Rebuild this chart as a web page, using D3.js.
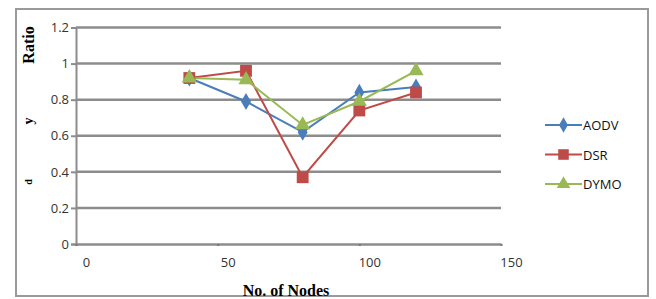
<!DOCTYPE html>
<html>
<head>
<meta charset="utf-8">
<script src="https://cdn.jsdelivr.net/npm/d3@7"></script>
<style>
  body { margin: 0; background: #fff; }
  svg { display: block; }
</style>
</head>
<body>
<div id="chart"></div>
<script>
// data
const nodes = [40, 60, 80, 100, 120];
const aodv = [0.92, 0.79, 0.62, 0.84, 0.87];
const dsr = [0.92, 0.96, 0.37, 0.74, 0.84];
const dymo = [0.92, 0.91, 0.66, 0.79, 0.96];
const xTicks = [0, 50, 100, 150];
const yTicks = [0, 0.2, 0.4, 0.6, 0.8, 1, 1.2];

const series = [
  { name: "AODV", values: aodv, color: "#4a7ebb", shape: d3.symbolDiamond, size: 85 },
  { name: "DSR", values: dsr, color: "#be4b48", shape: d3.symbolSquare, size: 140 },
  { name: "DYMO", values: dymo, color: "#98b954", shape: d3.symbolTriangle, size: 100 }
];

const width = 656, height = 299;
const svg = d3.select("#chart").append("svg")
  .attr("width", width).attr("height", height);

// outer frame
svg.append("rect")
  .attr("x", 16).attr("y", 9).attr("width", 632).attr("height", 287)
  .attr("fill", "none").attr("stroke", "#9a9a9a").attr("stroke-width", 2);

const x = d3.scaleLinear().domain([0, 150]).range([76, 501]);
const y = d3.scaleLinear().domain([0, 1.2]).range([244, 27.5]);

// gridlines + y ticks
const yAxis = svg.append("g")
  .attr("transform", "translate(76,0)")
  .call(d3.axisLeft(y).tickValues(yTicks).tickSize(5).tickFormat(d3.format("")));
yAxis.select(".domain").attr("stroke", "#8c8c8c").attr("stroke-width", 2);
yAxis.selectAll(".tick line").attr("stroke", "#8c8c8c").attr("stroke-width", 2);
yAxis.selectAll(".tick text")
  .attr("x", -7)
  .attr("fill", "#333")
  .style("font-family", "'Open Sans', sans-serif")
  .style("font-size", "13px");

svg.append("g").selectAll("line")
  .data(yTicks.filter(d => d > 0))
  .join("line")
  .attr("x1", 76).attr("x2", 501)
  .attr("y1", d => y(d)).attr("y2", d => y(d))
  .attr("stroke", "#8c8c8c").attr("stroke-width", 2.5);

// x axis
const xAxis = svg.append("g")
  .attr("transform", "translate(0,244)")
  .call(d3.axisBottom(x).tickValues(xTicks).tickSize(2).tickSizeOuter(0));
xAxis.select(".domain").attr("stroke", "#8c8c8c").attr("stroke-width", 2.5);
xAxis.selectAll(".tick line").attr("stroke", "#777").attr("stroke-width", 2);
xAxis.selectAll(".tick text")
  .attr("x", 10).attr("y", 14)
  .attr("fill", "#333")
  .style("font-family", "'Open Sans', sans-serif")
  .style("font-size", "13px");

// lines and markers
const line = d3.line()
  .x((d, i) => x(nodes[i]))
  .y(d => y(d));

series.forEach(s => {
  svg.append("path")
    .datum(s.values)
    .attr("d", line)
    .attr("fill", "none")
    .attr("stroke", s.color)
    .attr("stroke-width", 2);
});
series.forEach(s => {
  svg.append("g").selectAll("path")
    .data(s.values)
    .join("path")
    .attr("transform", (d, i) => `translate(${x(nodes[i])},${y(d)})`)
    .attr("d", d3.symbol().type(s.shape).size(s.size))
    .attr("fill", s.color);
});

// legend
const legend = svg.append("g");
series.forEach((s, i) => {
  const ly = 125 + i * 29.5;
  legend.append("line")
    .attr("x1", 545).attr("x2", 582).attr("y1", ly).attr("y2", ly)
    .attr("stroke", s.color).attr("stroke-width", 2);
  legend.append("path")
    .attr("transform", `translate(563.5,${ly})`)
    .attr("d", d3.symbol().type(s.shape).size(s.size * 0.8))
    .attr("fill", s.color);
  legend.append("text")
    .attr("x", 583).attr("y", ly + 5)
    .attr("fill", "#111")
    .style("font-family", "'Open Sans', sans-serif")
    .style("font-size", "13px")
    .text(s.name);
});

// axis titles
svg.append("text")
  .attr("transform", "translate(34,45) rotate(-90)")
  .attr("text-anchor", "middle")
  .style("font-family", "'Liberation Serif', serif")
  .style("font-weight", "bold")
  .style("font-size", "16px")
  .text("Ratio");
svg.append("text")
  .attr("transform", "translate(33,121) rotate(-90)")
  .attr("text-anchor", "middle")
  .style("font-family", "'Liberation Serif', serif")
  .style("font-weight", "bold")
  .style("font-size", "14px")
  .text("y");
svg.append("text")
  .attr("transform", "translate(32,182) rotate(-90)")
  .attr("text-anchor", "middle")
  .style("font-family", "'Liberation Serif', serif")
  .style("font-weight", "bold")
  .style("font-size", "10px")
  .text("d");
svg.append("text")
  .attr("x", 286).attr("y", 296)
  .attr("text-anchor", "middle")
  .style("font-family", "'Liberation Serif', serif")
  .style("font-weight", "bold")
  .style("font-size", "16px")
  .text("No. of Nodes");
</script>
</body>
</html>
